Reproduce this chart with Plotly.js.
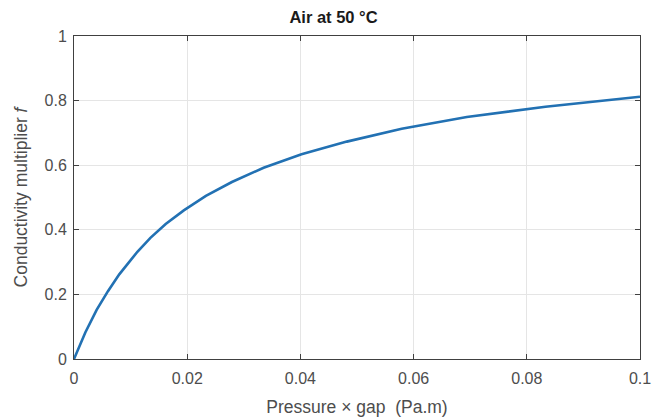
<!DOCTYPE html>
<html>
<head>
<meta charset="utf-8">
<script src="https://cdn.plot.ly/plotly-3.0.1.min.js"></script>
<style>html,body{margin:0;padding:0;background:#fff;}#chart{width:667px;height:419px;}</style>
</head>
<body>
<div id="chart"></div>
<script>
const pressureGap = [0, 0.002, 0.004, 0.006, 0.008, 0.0094, 0.0112, 0.0135, 0.0162, 0.0194, 0.0233, 0.0279, 0.0335, 0.0402, 0.0482, 0.0579, 0.0694, 0.0833, 0.1];
const multiplier = [0, 0.082, 0.152, 0.21, 0.262, 0.294, 0.332, 0.375, 0.418, 0.46, 0.505, 0.548, 0.592, 0.634, 0.673, 0.713, 0.749, 0.781, 0.812];
const xTicks = [0, 0.02, 0.04, 0.06, 0.08, 0.1];
const xTickText = ['0', '0.02', '0.04', '0.06', '0.08', '0.1'];
const yTicks = [0, 0.2, 0.4, 0.6, 0.8, 1];
const yTickText = ['0', '0.2', '0.4', '0.6', '0.8', '1'];

const axisCommon = {
  showgrid: true, gridcolor: '#e5e5e5', gridwidth: 1,
  showline: true, linecolor: '#404040', linewidth: 1, mirror: 'ticks',
  ticks: 'inside', ticklen: 5, tickcolor: '#404040', tickwidth: 1,
  zeroline: false,
  tickfont: {family: 'Liberation Sans, Arial, sans-serif', size: 16, color: '#4d4d4d'}
};

Plotly.newPlot('chart', [{
  x: pressureGap, y: multiplier, type: 'scatter', mode: 'lines',
  line: {color: '#2271b3', width: 2.6, shape: 'linear'}, hoverinfo: 'none'
}], {
  width: 667, height: 419,
  margin: {l: 74, r: 27, t: 36, b: 60},
  paper_bgcolor: '#fff', plot_bgcolor: '#fff',
  showlegend: false,
  title: {text: '<b>Air at 50 °C</b>', x: 0.5, xanchor: 'center', y: 0.96, yanchor: 'middle',
    font: {family: 'Liberation Sans, Arial, sans-serif', size: 16.5, color: '#1a1a1a'}},
  xaxis: Object.assign({}, axisCommon, {
    range: [0, 0.1], tickvals: xTicks, ticktext: xTickText, ticklabelstandoff: 5,
    title: {text: 'Pressure × gap  (Pa.m)', standoff: 14,
      font: {family: 'Liberation Sans, Arial, sans-serif', size: 17.5, color: '#4d4d4d'}}
  }),
  yaxis: Object.assign({}, axisCommon, {
    range: [0, 1], tickvals: yTicks, ticktext: yTickText, ticklabelstandoff: 3,
    title: {text: 'Conductivity multiplier <i>f</i>', standoff: 12,
      font: {family: 'Liberation Sans, Arial, sans-serif', size: 17.5, color: '#4d4d4d'}}
  })
}, {staticPlot: true});
</script>
</body>
</html>
